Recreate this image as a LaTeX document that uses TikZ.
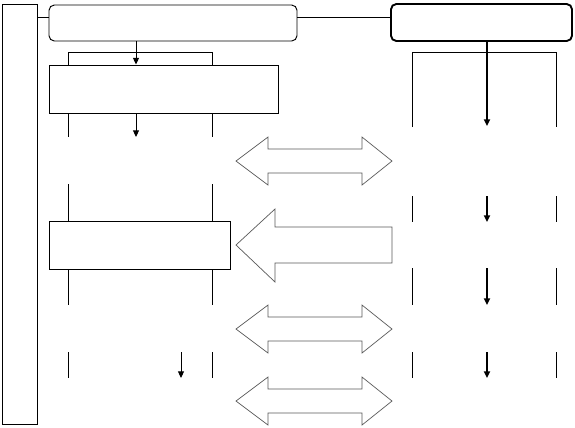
\documentclass[tikz,border=0pt]{standalone}
\usepackage{tikz}
\usetikzlibrary{arrows.meta}

\tikzset{
  box/.style={draw, line width=0.8pt, inner sep=0pt},
  rbox/.style={box, rounded corners=1.6mm},
  blockarrow/.style={draw=gray!70!black, line width=0.6pt, fill=white},
  thin line/.style={line width=0.8pt},
  bold line/.style={line width=1.5pt}
}

\begin{document}
\begin{tikzpicture}[x=0.3mm, y=-0.3mm, >={Triangle[length=2mm,width=1.8mm]}]
\useasboundingbox (0,0) rectangle (575,427);

\node (side) at (19.5,214) [box, minimum width=10.5mm, minimum height=126mm]{};
\node (top1) at (173,23) [rbox, minimum width=74.4mm, minimum height=10.8mm]{};
\node (top2) at (481.5,22.5) [rbox, line width=1.6pt, minimum width=54.3mm, minimum height=11.1mm]{};

\node (A) at (163.5,89) [box, minimum width=68.7mm, minimum height=14.4mm]{};
\node (B) at (139.5,245) [box, minimum width=54.3mm, minimum height=14.4mm]{};

\draw [thin line] (side.east |- 0,17) -- (top1.west |- 0,17);
\draw [thin line] (top1.east |- 0,17) -- (top2.west |- 0,17);

% left column
\draw [thin line] (A.north -| 68,0) -- (68,52) -- (212,52) -- (A.north -| 212,0);
\draw [->, thin line] (top1.south -| 136,0) -- (A.north -| 136,0);

\draw [thin line] (A.south -| 68,0) -- (68,137);
\draw [thin line] (A.south -| 212,0) -- (212,137);
\draw [->, thin line] (A.south -| 136,0) -- (136,137);

\draw [thin line] (68,184) -- (B.north -| 68,0);
\draw [thin line] (212,184) -- (B.north -| 212,0);

\draw [thin line] (B.south -| 68,0) -- (68,305);
\draw [thin line] (B.south -| 212,0) -- (212,305);

\draw [thin line] (68,352) -- (68,378);
\draw [thin line] (212,352) -- (212,378);
\draw [->, thin line] (181,352) -- (181,378);

% right column
\draw [thin line] (412,127) -- (412,52) -- (556,52) -- (556,127);
\draw [->, bold line] (top2.south -| 487,0) -- (487,126);

\draw [thin line] (412,196) -- (412,222);
\draw [thin line] (556,196) -- (556,222);
\draw [->, bold line] (487,196) -- (487,222);

\draw [thin line] (412,268) -- (412,305);
\draw [thin line] (556,268) -- (556,305);
\draw [->, bold line] (487,268) -- (487,305);

\draw [thin line] (412,352) -- (412,378);
\draw [thin line] (556,352) -- (556,378);
\draw [->, bold line] (487,352) -- (487,378);

% block arrows
\draw [blockarrow] (236,161) -- (268,137) -- (268,149) -- (362,149) -- (362,137) -- (392,161)
  -- (362,185) -- (362,173) -- (268,173) -- (268,185) -- cycle;
\draw [blockarrow] (236,245) -- (275,209) -- (275,227) -- (392,227) -- (392,263) -- (275,263)
  -- (275,282) -- cycle;
\draw [blockarrow] (236,329) -- (268,305) -- (268,317) -- (362,317) -- (362,305) -- (392,329)
  -- (362,353) -- (362,341) -- (268,341) -- (268,353) -- cycle;
\draw [blockarrow] (236,401) -- (268,377) -- (268,389) -- (362,389) -- (362,377) -- (392,401)
  -- (362,425) -- (362,413) -- (268,413) -- (268,425) -- cycle;

\end{tikzpicture}
\end{document}
